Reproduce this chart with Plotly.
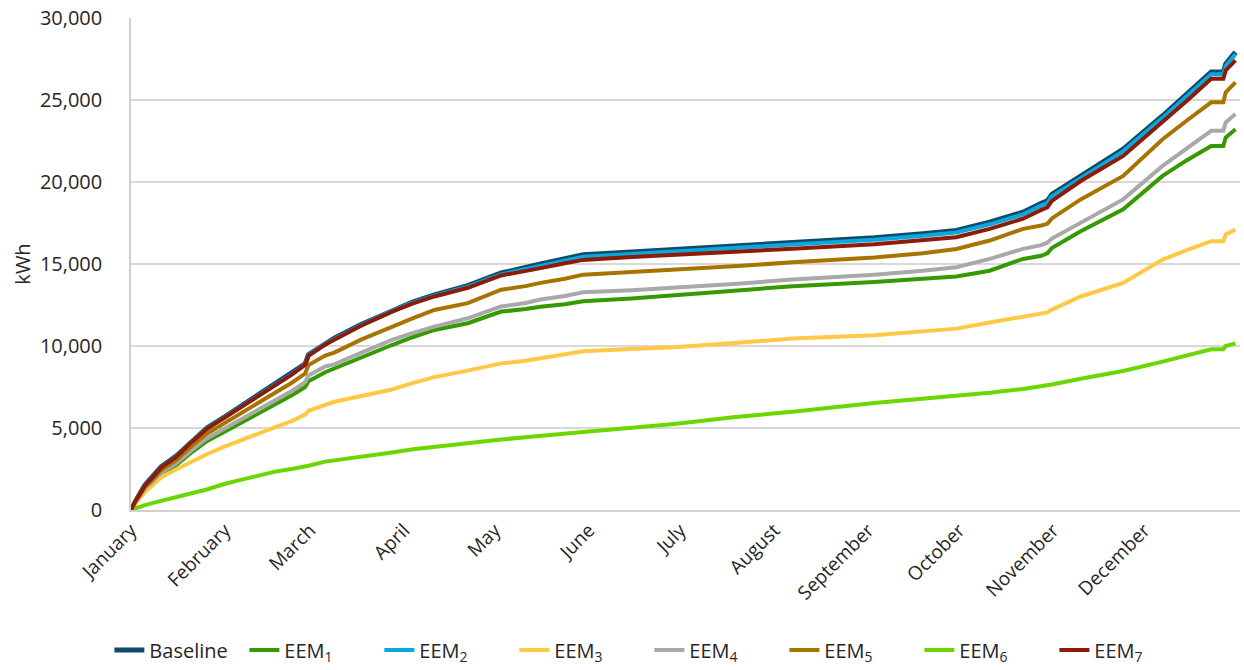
import plotly.graph_objects as go

# day-of-year positions of the read samples
days = [0, 1.3, 3, 4.6, 7, 10, 15, 20, 25, 31, 36.5, 42, 47.5, 53, 57.4, 58.5, 64, 67, 76, 86,
        93, 100, 111, 122, 130, 135, 143, 149, 165, 179, 200, 218, 245, 261, 272, 283, 294,
        300, 302, 303.5, 313, 327, 340, 348, 356, 360, 360.8, 364]

baseline = [0, 520, 1030, 1530, 1980, 2640, 3300, 4200, 5000, 5700, 6360, 7010, 7660, 8310, 8910,
            9470, 10170, 10470, 11320, 12180, 12700, 13120, 13680, 14450, 14750, 15000, 15320,
            15570, 15730, 15880, 16100, 16330, 16600, 16840, 17040, 17550, 18160, 18700, 18850,
            19250, 20370, 22000, 24040, 25370, 26700, 26700, 27200, 27920]

eem1 = [0, 420, 850, 1270, 1650, 2200, 2750, 3520, 4200, 4790, 5340, 5880, 6440, 6990, 7500,
        7850, 8400, 8630, 9350, 10060, 10550, 10980, 11390, 12100, 12250, 12390, 12550, 12730,
        12900, 13080, 13360, 13640, 13900, 14080, 14240, 14590, 15310, 15500, 15650, 15980,
        17000, 18330, 20370, 21330, 22200, 22200, 22710, 23220]

eem2 = [0, 510, 1020, 1520, 1970, 2620, 3280, 4180, 4980, 5680, 6340, 6990, 7630, 8280, 8880,
        9440, 10140, 10440, 11280, 12140, 12650, 13070, 13620, 14370, 14650, 14880, 15200,
        15450, 15610, 15760, 15980, 16210, 16480, 16720, 16920, 17420, 18030, 18570, 18720,
        19120, 20240, 21870, 23910, 25240, 26570, 26570, 27070, 27790]

eem3 = [0, 350, 750, 1100, 1500, 2000, 2480, 2960, 3400, 3880, 4280, 4690, 5050, 5420, 5820,
        6050, 6370, 6600, 6950, 7350, 7750, 8100, 8500, 8940, 9100, 9250, 9500, 9680, 9820,
        9930, 10200, 10450, 10650, 10920, 11060, 11430, 11800, 11950, 12050, 12220, 13020,
        13840, 15270, 15850, 16390, 16390, 16800, 17100]

eem4 = [0, 440, 880, 1320, 1720, 2290, 2860, 3650, 4360, 4970, 5540, 6110, 6690, 7260, 7790,
        8200, 8750, 8880, 9600, 10370, 10800, 11180, 11690, 12410, 12620, 12830, 13050, 13280,
        13400, 13540, 13800, 14050, 14350, 14590, 14800, 15310, 15920, 16150, 16300, 16550,
        17510, 18940, 20980, 22080, 23120, 23120, 23630, 24140]

eem5 = [0, 470, 940, 1410, 1830, 2440, 3050, 3900, 4650, 5310, 5920, 6530, 7140, 7760, 8320,
        8840, 9420, 9600, 10400, 11180, 11700, 12200, 12610, 13430, 13650, 13850, 14100, 14350,
        14500, 14660, 14880, 15100, 15400, 15650, 15920, 16430, 17140, 17350, 17450, 17780,
        18940, 20370, 22610, 23750, 24860, 24860, 25470, 26080]

eem6 = [0, 100, 220, 300, 420, 570, 800, 1020, 1250, 1600, 1850, 2100, 2340, 2500, 2620, 2700,
        2950, 3020, 3250, 3500, 3700, 3850, 4050, 4300, 4430, 4530, 4660, 4760, 5020, 5250,
        5680, 5990, 6530, 6780, 6950, 7150, 7380, 7550, 7600, 7650, 8000, 8480, 9050, 9420,
        9800, 9800, 10000, 10160]

eem7 = [0, 500, 1000, 1500, 1950, 2600, 3250, 4150, 4950, 5650, 6300, 6950, 7600, 8250, 8850,
        9400, 10100, 10400, 11250, 12100, 12600, 13020, 13550, 14300, 14550, 14750, 15050,
        15250, 15420, 15570, 15750, 15930, 16200, 16430, 16630, 17140, 17760, 18300, 18450,
        18850, 20060, 21590, 23630, 24950, 26290, 26290, 26800, 27410]

month_days = [0, 31, 59, 90, 120, 151, 181, 212, 243, 273, 304, 334]
month_labels = ["January", "February", "March", "April", "May", "June", "July", "August",
                "September", "October", "November", "December"]
y_ticks = [0, 5000, 10000, 15000, 20000, 25000, 30000]

series_names = ["Baseline", "EEM<sub>1</sub>", "EEM<sub>2</sub>", "EEM<sub>3</sub>",
                "EEM<sub>4</sub>", "EEM<sub>5</sub>", "EEM<sub>6</sub>", "EEM<sub>7</sub>"]
series_values = [baseline, eem1, eem2, eem3, eem4, eem5, eem6, eem7]
colors = ["#0f4c6b", "#349a00", "#0aa8dc", "#ffc845", "#a9a9a9", "#a87400", "#6cd600", "#8e1a08"]
widths = [5, 4, 4, 4, 4, 4, 4, 4]

fig = go.Figure()
for name, vals, col, w in zip(series_names, series_values, colors, widths):
    fig.add_trace(go.Scatter(x=days, y=vals, mode="lines", name=name,
                             line=dict(color=col, width=w)))

txt = "#262626"
fam = "Open Sans, Noto Sans, sans-serif"

fig.update_layout(
    width=1244, height=670,
    margin=dict(l=131, r=4, t=18, b=160, autoexpand=False),
    paper_bgcolor="white", plot_bgcolor="white",
    font=dict(family=fam, size=20, color=txt),
    showlegend=True,
    legend=dict(orientation="h", xref="container", yref="container",
                x=0.522, xanchor="center", y=0.03, yanchor="middle",
                font=dict(family=fam, size=20, color=txt), entrywidth=90,
                entrywidthmode="pixels", tracegroupgap=0),
    xaxis=dict(range=[0, 365.5], tickmode="array", tickvals=month_days, ticktext=month_labels,
               tickangle=-45, showgrid=False, showline=True, linecolor="#d0d0d0", linewidth=1.5,
               ticks="", zeroline=False, automargin=False,
               tickfont=dict(family=fam, size=19, color=txt)),
    yaxis=dict(range=[0, 30000], tickmode="array", tickvals=y_ticks, tickformat=",",
               showgrid=True, gridcolor="#d9d9d9", gridwidth=1.5,
               showline=True, linecolor="#d0d0d0", linewidth=1.5, zeroline=False, ticks="",
               ticklabelstandoff=23, automargin=False,
               tickfont=dict(family=fam, size=20, color=txt),
               title=dict(text="kWh", standoff=4, font=dict(family=fam, size=20, color=txt))),
)

fig.write_html("out.html")
